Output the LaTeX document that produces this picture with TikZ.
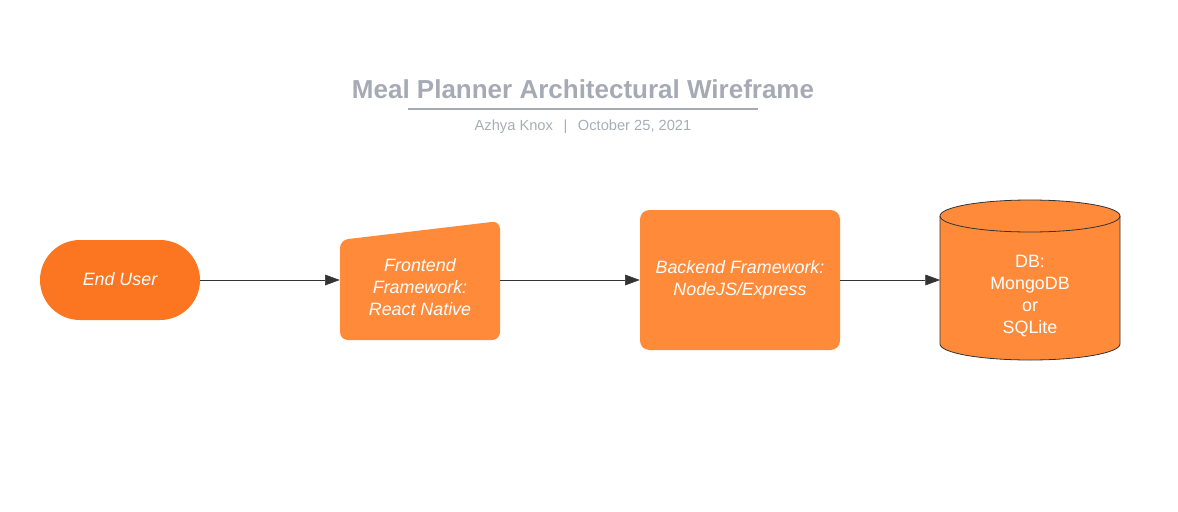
\documentclass[tikz,border=0pt]{standalone}
\usepackage{fontspec}
\setmainfont{Liberation Sans}
\usetikzlibrary{arrows.meta}
\definecolor{darkorange}{HTML}{FC7520}
\definecolor{lightorange}{HTML}{FF8A3A}
\definecolor{titlegray}{HTML}{A5AAB4}
\definecolor{subgray}{HTML}{A9ADB5}
\definecolor{linegray}{HTML}{333333}
\tikzset{
  box/.style={text=white, align=center, font=\fontsize{13.4}{16.3}\selectfont\itshape},
  flow/.style={draw=linegray, -{Triangle[length=11pt, width=8pt]}}
}
\begin{document}
\begin{tikzpicture}[x=0.75pt, y=-0.75pt]
      \useasboundingbox (0, 0) rectangle (1178, 511);
      % title
      \node (title) [text=titlegray, font=\fontsize{19.5}{22}\selectfont\bfseries] at (583, 89) {Meal Planner Architectural Wireframe};
      \draw [titlegray, line width=1.5pt] (408, 109) -- (758, 109);
      \node (sub) [text=subgray, font=\fontsize{11}{12}\selectfont] at (583, 127) {Azhya Knox \ \,|\, \ October 25, 2021};
      % shapes
      \fill [darkorange, rounded corners=30pt] (40, 240) rectangle (200, 320);
      \fill [lightorange, rounded corners=6pt] (340, 340) -- (340, 240) -- (500, 221) -- (500, 340) -- cycle;
      \fill [lightorange, rounded corners=7pt] (640, 210) rectangle (840, 350);
      \filldraw [fill=lightorange, draw=linegray, line width=0.6pt]
            (940, 216) -- (940, 344) arc [start angle=180, end angle=0, x radius=90, y radius=16]
            -- (1120, 216) arc [start angle=0, end angle=-180, x radius=90, y radius=16];
      \draw [linegray, line width=0.6pt] (940, 216) arc [start angle=180, end angle=0, x radius=90, y radius=16];
      % labels
      \node (user) [box, minimum width=120pt, minimum height=60pt] at (120, 280) {\raisebox{1.5pt}{End User}};
      \node (front) [box, minimum width=120pt, minimum height=60pt] at (420, 287) {Frontend\\Framework:\\React Native};
      \node (back) [box, minimum width=150pt, minimum height=105pt] at (740, 280) {Backend Framework:\\NodeJS/Express};
      \node (db) [box, font=\fontsize{13.4}{16.3}\selectfont, minimum width=135pt, minimum height=60pt] at (1030, 296) {DB:\\MongoDB\\or\\SQLite};
      \coordinate (dbin) at (940, 280);
      \draw [flow] (user.east) -- (front.west |- user.east);
      \draw [flow] (front.east |- user.east) -- (back.west |- user.east);
      \draw [flow] (back.east |- user.east) -- (dbin);
\end{tikzpicture}
\end{document}
